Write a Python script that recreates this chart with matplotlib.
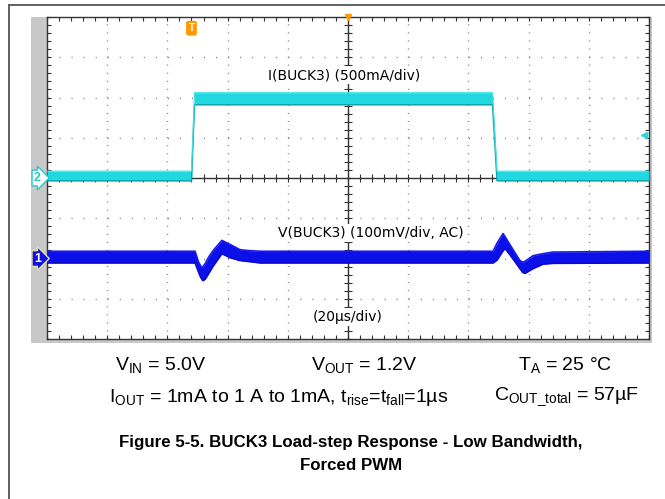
import matplotlib
matplotlib.use("Agg")
import matplotlib.pyplot as plt
from matplotlib.ticker import MultipleLocator, NullFormatter
from matplotlib.patches import Rectangle
from matplotlib.lines import Line2D

plt.rcParams['font.family'] = ['Liberation Sans', 'DejaVu Sans']
plt.rcParams['mathtext.fontset'] = 'custom'
plt.rcParams['mathtext.rm'] = 'Liberation Sans'
plt.rcParams['mathtext.it'] = 'Liberation Sans'
plt.rcParams['mathtext.default'] = 'regular'

# scope settings (20us/div, 500mA/div, 100mV/div)
t_min, t_max = -48, 152
i_lim = (-2000, 2000)
v_lim = (-200, 600)

# load current envelope, mA
time_i = [-48, 0, 1, 100, 101.5, 152]
i_upper = [85, 85, 1060, 1060, 85, 85]
i_lower = [-35, -35, 910, 910, -35, -35]

# output voltage envelope, mV (AC coupled)
time_v = [-48, 1.2, 2.3, 3.0, 3.5, 3.8, 4.6, 5.5, 7.1, 10.1, 12.8, 16.1, 18.4, 22.8,
          100.2, 101.5, 103.5, 104.2, 107, 109.1, 110.1, 110.8, 113.5, 116.8, 120.1, 152]
v_upper = [18, 18, -8, -18, -22, -20, -12, 1, 19, 45, 35, 22, 20, 18,
           18, 38, 62, 54, 20, -5, -9, -7, 7, 12, 16, 18]
v_lower = [-11, -11, -33, -46, -52, -55, -51, -40, -20, 12, 2, -5, -7, -11,
           -11, -4, 19, 25, -3, -25, -35, -37, -25, -14, -12, -11]

trig_level = 530

W, H = 665, 499
fig = plt.figure(figsize=(W / 100, H / 100), dpi=100)

def px(x0, y0, x1, y1):
    return [x0 / W, 1 - y1 / H, (x1 - x0) / W, (y1 - y0) / H]

rect = px(47, 17, 649, 339)

# outer frame of the page
fig.add_artist(Line2D([9 / W, 9 / W], [0, 1 - 5 / H], color='#555555', lw=1.3))
fig.add_artist(Line2D([9 / W, 1], [1 - 5 / H, 1 - 5 / H], color='#555555', lw=1.3))

# gray bezel of the scope screen
for r in [px(31, 17, 47, 343), px(31, 339, 652, 343), px(649, 17, 652, 343)]:
    fig.add_artist(Rectangle((r[0], r[1]), r[2], r[3], transform=fig.transFigure,
                             facecolor='#c8c8c8', edgecolor='none', zorder=-1))

# graticule
scr = fig.add_axes(rect)
scr.set_xlim(-5, 5)
scr.set_ylim(-4, 4)
scr.xaxis.set_major_locator(MultipleLocator(1))
scr.yaxis.set_major_locator(MultipleLocator(1))
scr.xaxis.set_minor_locator(MultipleLocator(0.2))
scr.yaxis.set_minor_locator(MultipleLocator(0.2))
scr.xaxis.set_major_formatter(NullFormatter())
scr.yaxis.set_major_formatter(NullFormatter())
scr.tick_params(which='both', direction='in', top=True, right=True,
                length=3, width=0.8, color='#333333')
scr.grid(axis='x', color='#777777', lw=1, linestyle=(0, (0.7, 5.1)))
scr.grid(axis='y', color='#777777', lw=1, linestyle=(0, (0.7, 7.97)))
for s in scr.spines.values():
    s.set_color('#333333')
    s.set_linewidth(1)

# center cross with ticks
cross = fig.add_axes(rect, facecolor='none')
cross.set_xlim(-5, 5)
cross.set_ylim(-4, 4)
cross.spines['left'].set_position(('data', 0))
cross.spines['bottom'].set_position(('data', 0))
cross.spines['top'].set_visible(False)
cross.spines['right'].set_visible(False)
for s in ['left', 'bottom']:
    cross.spines[s].set_color('#333333')
    cross.spines[s].set_linewidth(1)
cross.xaxis.set_major_locator(MultipleLocator(1))
cross.yaxis.set_major_locator(MultipleLocator(1))
cross.xaxis.set_minor_locator(MultipleLocator(0.2))
cross.yaxis.set_minor_locator(MultipleLocator(0.2))
cross.xaxis.set_major_formatter(NullFormatter())
cross.yaxis.set_major_formatter(NullFormatter())
cross.tick_params(which='both', direction='inout', length=6, width=0.8, color='#333333')

# channel labels
lab = dict(ha='center', va='center', fontsize=10, family='DejaVu Sans',
           bbox=dict(fc='white', ec='none', pad=1.5))
cross.text(-0.07, 2.55, 'I(BUCK3) (500mA/div)', **lab)
cross.text(0.38, -1.37, 'V(BUCK3) (100mV/div, AC)', **lab)
cross.text(0.0, -3.45, '(20µs/div)', **lab)

# current trace
ax_i = fig.add_axes(rect, facecolor='none')
ax_i.set_xlim(t_min, t_max)
ax_i.set_ylim(*i_lim)
ax_i.axis('off')
ax_i.fill_between(time_i, i_lower, i_upper, color='#22d8e0', lw=0, zorder=3)
ax_i.plot(time_i, i_lower, color='#0fa3ab', lw=1.0, zorder=4)
ax_i.plot(time_i, i_upper, color='#3fe0e6', lw=0.8, zorder=4)

# voltage trace
ax_v = fig.add_axes(rect, facecolor='none')
ax_v.set_xlim(t_min, t_max)
ax_v.set_ylim(*v_lim)
ax_v.axis('off')
ax_v.fill_between(time_v, v_lower, v_upper, color='#0c10e8', lw=0, zorder=3)
ax_v.plot(time_v, v_lower, color='#0a0ad0', lw=1.2, zorder=4)
ax_v.plot(time_v, v_upper, color='#1a1af0', lw=1.2, zorder=4)

# channel ground markers
ax_i.text(-0.016, 0, '2', transform=ax_i.get_yaxis_transform(), ha='center', va='center',
          fontsize=9, color='#22c8d0', fontweight='bold', clip_on=False,
          bbox=dict(boxstyle='rarrow,pad=0.15', fc='white', ec='#22c8d0', lw=1))
ax_v.text(-0.016, 0, '1', transform=ax_v.get_yaxis_transform(), ha='center', va='center',
          fontsize=9, color='white', fontweight='bold', clip_on=False,
          bbox=dict(boxstyle='rarrow,pad=0.15', fc='#1010e0', ec='#e0e0a0', lw=1))
# trigger level
ax_i.plot([t_max - 1.5], [trig_level], marker='<', color='#22d8e0', ms=5, clip_on=False)
# trigger position and horizontal position markers
ax_i.text(0, 0.965, 'T', transform=ax_i.get_xaxis_transform(), ha='center', va='center',
          fontsize=7, color='white', fontweight='bold',
          bbox=dict(boxstyle='round,pad=0.25', fc='#ff9a00', ec='none'))
ax_i.plot([(t_min + t_max) / 2], [i_lim[1]], marker='v', color='#ff9a00', ms=5, clip_on=False)

# test conditions
fs = 14
fig.text(161 / W, 1 - 365 / H, r'V$_{IN}$ = 5.0V', ha='center', va='center', fontsize=fs)
fig.text(364 / W, 1 - 365 / H, r'V$_{OUT}$ = 1.2V', ha='center', va='center', fontsize=fs)
fig.text(565 / W, 1 - 365 / H, r'T$_{A}$ = 25 °C', ha='center', va='center', fontsize=fs)
fig.text(279 / W, 1 - 397 / H, r'I$_{OUT}$ = 1mA to 1 A to 1mA, t$_{rise}$=t$_{fall}$=1µs',
         ha='center', va='center', fontsize=fs)
fig.text(566 / W, 1 - 397 / H, r'C$_{OUT\_total}$ = 57µF', ha='center', va='center', fontsize=fs)

fig.text(351 / W, 1 - 443 / H, 'Figure 5-5. BUCK3 Load-step Response - Low Bandwidth,',
         ha='center', va='center', fontsize=12.2, fontweight='bold')
fig.text(351 / W, 1 - 466 / H, 'Forced PWM', ha='center', va='center', fontsize=12.2,
         fontweight='bold')

fig.savefig('out.png', dpi=100)
